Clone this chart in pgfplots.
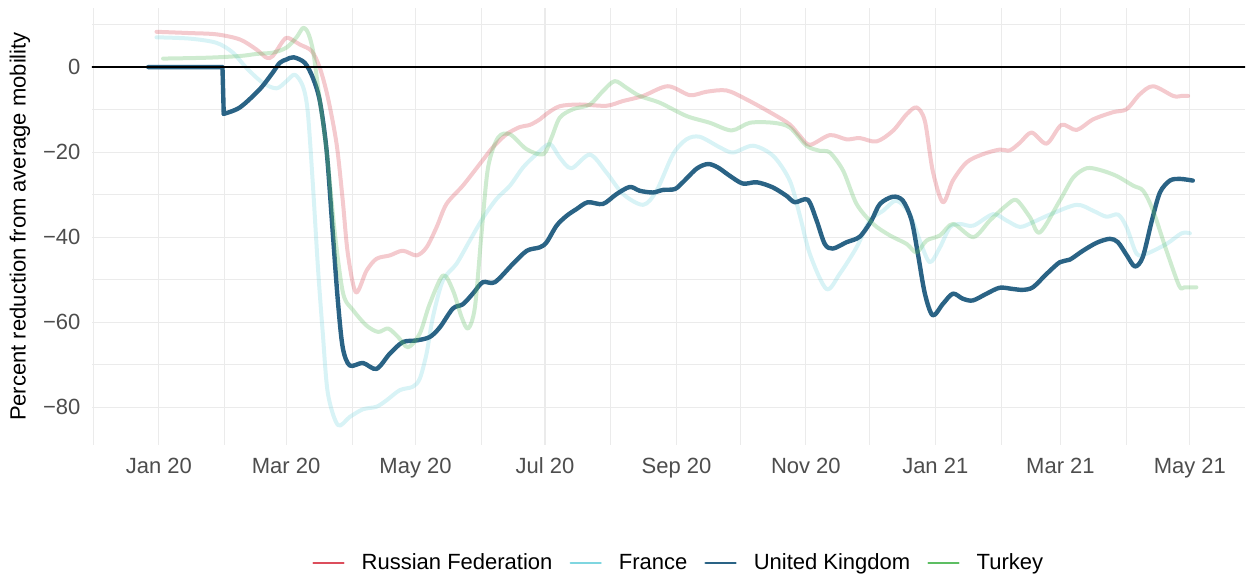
\documentclass[border=0pt]{standalone}
\usepackage{fontspec}
\setmainfont{Liberation Sans}
\usepackage{pgfplots}
\pgfplotsset{compat=1.18}
\definecolor{rus}{HTML}{DC4E5C}
\definecolor{fra}{HTML}{7FD6E0}
\definecolor{uk}{HTML}{2A6385}
\definecolor{tur}{HTML}{5DBE63}
\definecolor{gridc}{HTML}{EBEBEB}
\definecolor{tickc}{HTML}{4D4D4D}
\begin{document}
\begin{tikzpicture}
\useasboundingbox (-46bp,-66bp) rectangle (579bp,222.5bp);
\begin{axis}[
  at={(0,0)}, anchor=south west,
  scale only axis, width=576.5bp, height=218.5bp,
  xmin=-31.5, xmax=512, ymin=-88.9, ymax=13.9,
  axis line style={draw=none},
  major tick length=0pt, minor tick length=0pt,
  xtick={0,60,121,182,244,305,366,425,486},
  xticklabels={Jan 20,Mar 20,May 20,Jul 20,Sep 20,Nov 20,Jan 21,Mar 21,May 21},
  minor xtick={-31,31,91,152,213,274,335,397,456},
  ytick={-80,-60,-40,-20,0},
  yticklabels={−80,−60,−40,−20,0},
  minor ytick={-70,-50,-30,-10,10},
  grid=both,
  major grid style={draw=gridc, line width=0.6bp},
  minor grid style={draw=gridc, line width=0.35bp},
  tick label style={font=\fontsize{11bp}{13bp}\selectfont, text=tickc},
  xticklabel style={yshift=-2.8bp},
  yticklabel style={xshift=-2.3bp},
  every axis y label/.style={at={(axis description cs:-0.0624,0.5)}, anchor=center, rotate=90},
  ylabel={Percent reduction from average mobility},
  label style={font=\fontsize{11bp}{13bp}\selectfont, text=black},
  legend columns=4,
  legend style={at={(axis description cs:0.508,-0.27)}, anchor=center, draw=none, fill=none,
    font=\fontsize{11bp}{13bp}\selectfont, inner sep=0pt,
    nodes={inner sep=0pt},
    /tikz/every odd column/.append style={column sep=8.5bp},
    /tikz/every even column/.append style={column sep=8.5bp}},
  legend image code/.code={\draw[#1, opacity=1, draw opacity=1, line width=1.2bp] (0bp,0bp) -- (15bp,0bp);},
  every axis plot/.append style={smooth, tension=0.5, line join=round, line cap=round},
]
\addplot[rus, line width=2bp, draw opacity=0.3] coordinates {
(-1.1,8.3) (14.6,8.0) (27.2,7.7) (38.2,6.5) (46.1,4.1) (50.8,2.2) (53.7,2.6) (58.5,6.1) (60.8,6.9)
(66.5,5.3) (72.0,3.8) (75.9,-0.2) (79.7,-7.2) (83.8,-18.1) (86.7,-31.4) (89.1,-43.9) (92.9,-53)
(97.9,-47.9) (102.6,-45.1) (108.9,-44.3) (115.0,-43.2) (121.5,-44.3) (126.2,-42.4) (130.9,-37.7)
(135.6,-32.2) (143.3,-27.9) (151.3,-22.8) (157.4,-18.9) (163.9,-15.8) (170.2,-14.1) (174.9,-13.6)
(179.6,-12.3) (182.8,-11) (189.0,-9.2) (198.5,-8.8) (211.0,-9.1) (218.7,-8) (228.2,-6.8) (239.9,-4.5)
(250.3,-6.6) (258.2,-5.8) (267.6,-5.5) (277.0,-7.6) (289.4,-11) (297.4,-13.5) (302.2,-16.2)
(306.9,-18.3) (316.3,-16) (324.2,-17) (330.4,-16.7) (338.3,-17.5) (346.0,-15) (352.5,-11.1)
(357.2,-9.5) (361.1,-12.7) (364.8,-24.4) (369.6,-31.8) (374.3,-26.7) (380.8,-22.4) (388.4,-20.5)
(396.4,-19.4) (401.1,-19.6) (405.9,-17.8) (411.4,-15.4) (418.5,-18) (425.5,-13.6) (432.6,-14.8)
(440.4,-12.3) (449.9,-10.6) (456.2,-9.9) (462.4,-6.4) (468.7,-4.5) (478.2,-6.8) (482,-6.8) (485.2,-6.8)
};
\addlegendentry{Russian Federation}
\addplot[fra, line width=2bp, draw opacity=0.3] coordinates {
(-1.1,7) (14.6,6.7) (27.2,5.7) (34.9,3.4) (41.3,-0.2) (49.0,-3.7) (55.5,-5) (60.2,-3.3) (64.1,-1.8)
(67.9,-4.5) (70.2,-10.5) (72.6,-27.5) (75.0,-47.1) (77.3,-62.7) (79.7,-76.8) (84.4,-84.2) (90.0,-82.3)
(96.2,-80.5) (102.6,-79.9) (107.3,-78.4) (113.6,-76) (119.7,-75.2) (123.0,-73.3) (126.2,-67.4)
(129.2,-58.8) (133.9,-50.2) (140.3,-46.3) (146.6,-40.8) (152.9,-35.4) (159.2,-31) (165.5,-27.9)
(171.7,-23.6) (178.0,-20.5) (184.3,-18.1) (189.0,-21.3) (194.5,-23.8) (203.2,-20.6) (211.0,-24.8)
(218.9,-29.9) (228.3,-32.4) (234.6,-29.1) (242.4,-20.5) (248.7,-17) (255.0,-16.4) (264.5,-18.9)
(270.7,-20.1) (280.1,-18.5) (289.6,-20.9) (297.4,-26.7) (302.2,-35) (306.9,-44) (314.7,-52.2)
(321.0,-48.6) (328.9,-42.4) (335.1,-36.1) (341.4,-33.8) (347.7,-31.4) (354.0,-34.6) (358.7,-40.8)
(363.4,-45.9) (368.2,-42.4) (372.9,-37.7) (377.6,-36.9) (383.9,-37.3) (393.3,-34.6) (399.6,-36.1)
(405.9,-37.6) (412.0,-36.5) (420.0,-34.7) (432.6,-32.4) (440.4,-33.8) (446.7,-35.2) (452.2,-34.7)
(456.2,-37.7) (460.9,-43.9) (465.6,-43.9) (475.0,-41.6) (482.1,-39.1) (486.0,-39.1)
};
\addlegendentry{France}
\addplot[uk, line width=2.2bp, sharp plot, forget plot] coordinates {
(-5,0) (30.0,0) (30.6,-11)
};
\addplot[uk, line width=2.2bp] coordinates {
(30.6,-11) (38.2,-9.5) (47.6,-5.2) (53.7,-1.3) (57.0,1.0) (60.2,1.8) (63.6,2.3)
(68.8,1.0) (72.6,-2.5) (75.9,-8) (79.1,-19.7) (82.0,-39) (84.4,-55) (86.7,-66) (90.0,-70.2)
(96.2,-69.6) (102.6,-71) (108.9,-67.4) (115.0,-64.7) (121.5,-64.3) (127.7,-63.5) (132.5,-61.2)
(138.6,-56.8) (143.3,-55.8) (148.0,-53.3) (152.7,-50.6) (158.4,-50.6) (166.9,-46.3) (173.5,-43.2)
(179.6,-42.4) (182.8,-41.2) (187.5,-37.3) (192.2,-35) (196.9,-33.4) (202.2,-31.8) (209.3,-32.2)
(215.7,-29.9) (222.0,-28.2) (226.7,-29.1) (232.9,-29.5) (237.6,-28.9) (243.2,-28.7) (247.0,-27.1)
(253.5,-23.9) (258.8,-22.8) (263.5,-23.6) (269.2,-25.6) (275.3,-27.4) (281.9,-27.1) (289.4,-28.3)
(295.9,-30.3) (299.8,-31.8) (305.9,-31.2) (310.0,-36) (313.9,-41.6) (317.7,-42.7) (324.2,-41.2)
(330.4,-39.9) (335.9,-36.1) (339.9,-32.2) (346.0,-30.5) (350.7,-31.4) (354.8,-36) (357.8,-43.9)
(361.1,-53.3) (364.8,-58.4) (369.6,-55.7) (374.3,-53.3) (379.0,-54.5) (383.7,-54.9) (390.2,-53.3)
(396.4,-51.9) (402.6,-52.2) (407.3,-52.4) (412.0,-51.8) (418.6,-48.6) (424.7,-45.9) (429.4,-45.3)
(435.6,-43.2) (442.2,-41.3) (448.3,-40.4) (452.1,-41.2) (456.3,-44.3) (460.1,-46.9) (463.8,-44.7)
(468.1,-36.1) (471.9,-29.5) (476.6,-26.7) (481.3,-26.3) (487.4,-26.7)
};
\addlegendentry{United Kingdom}
\addplot[tur, line width=2bp, draw opacity=0.3] coordinates {
(2.0,2) (22.5,2.2) (38.2,2.6) (46.1,3.1) (53.8,3.4) (60.2,4.6) (64.9,7) (68.0,9.2) (70.4,8)
(72.7,3.8) (75.1,-4.9) (79.1,-19.7) (83.0,-39.2) (86.9,-53.3) (91.6,-57.2) (97.9,-60.8) (103.4,-62.3)
(108.1,-61.5) (112.8,-63.5) (117.5,-65.9) (123.0,-62.7) (127.7,-55.7) (134.0,-49) (138.7,-52.6)
(142.7,-58.8) (145.8,-61.5) (149.0,-56.5) (152.1,-39.2) (155.2,-23.6) (159.9,-16.6) (165.5,-15.8)
(173.3,-19.3) (181.2,-20.5) (185.1,-16.6) (189.0,-11.9) (195.3,-9.9) (203.2,-8.8) (209.4,-5.6)
(214.9,-3.3) (220.5,-4.9) (226.7,-6.8) (236.2,-8.4) (248.7,-11.5) (259.7,-13.1) (270.0,-14.9)
(278.6,-13.1) (289.6,-13.1) (297.4,-14.2) (305.3,-18.5) (311.6,-19.7) (316.3,-20.1) (322.6,-24.4)
(328.9,-32.2) (336.7,-36.9) (344.6,-39.6) (352.5,-41.6) (357.2,-43.6) (361.9,-40.8) (368.2,-39.6)
(374.4,-36.9) (383.9,-40) (391.7,-36.1) (399.6,-32.5) (404.3,-31.3) (410.6,-35.3) (415.3,-38.9)
(424.7,-31.4) (431.0,-26) (437.3,-23.8) (443.6,-24.2) (451.4,-25.6) (459.3,-27.9) (464.0,-29.1)
(468.7,-33.8) (475.0,-43.2) (481.0,-51.5) (483.5,-51.8) (489.1,-51.8)
};
\addlegendentry{Turkey}
\addplot[black, line width=0.9bp, sharp plot, forget plot] coordinates {(-31.5,0) (512,0)};
\end{axis}
\end{tikzpicture}
\end{document}
